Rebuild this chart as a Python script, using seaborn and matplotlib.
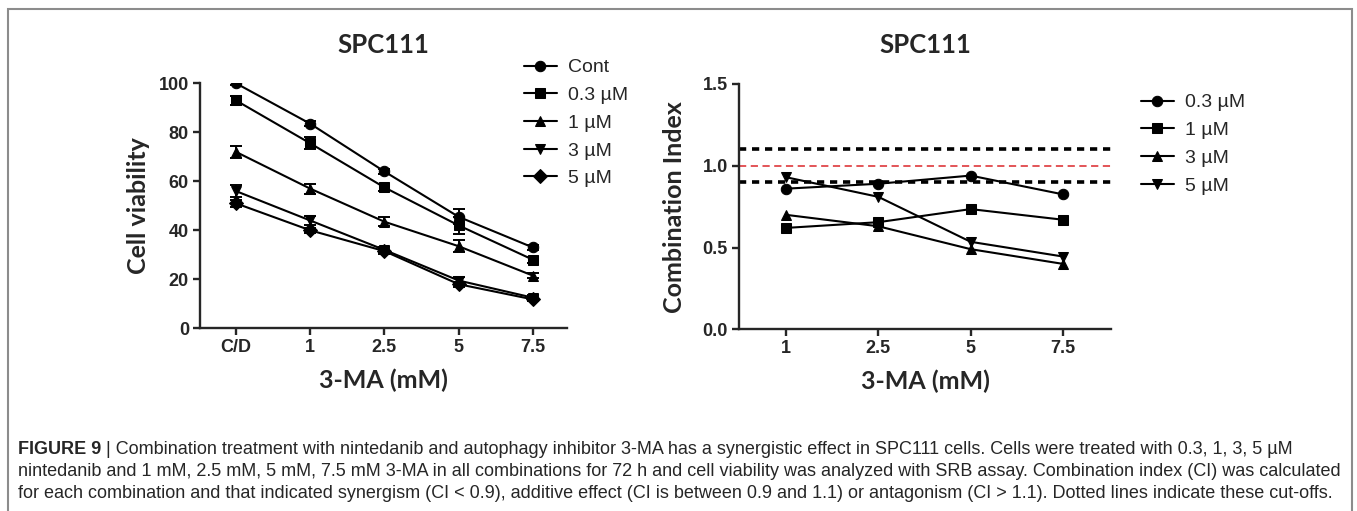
import pandas as pd
import matplotlib.pyplot as plt
import seaborn as sns
from matplotlib import font_manager
from matplotlib.patches import Rectangle


OUTPUT_PATH = "out.png"

# 3-MA concentrations (x axis)
MA_LEFT = ["C/D", "1", "2.5", "5", "7.5"]
MA_RIGHT = ["1", "2.5", "5", "7.5"]

# Cell viability (%) per nintedanib dose
VIAB_GROUPS = ["Cont", "0.3 µM", "1 µM", "3 µM", "5 µM"]
VIAB_CONT = [100, 83.5, 64, 45.5, 33]
VIAB_03 = [93, 75.5, 57.5, 42, 28]
VIAB_1 = [72, 57, 43.5, 33.5, 21.5]
VIAB_3 = [56, 44, 32, 19.5, 12.5]
VIAB_5 = [51, 40, 31.5, 18, 11.8]

# SEM for the viability points
SEM_CONT = [0.5, 1, 1, 3, 1]
SEM_03 = [2, 2.5, 1.5, 3.5, 1.2]
SEM_1 = [2.5, 2, 1.8, 2.5, 1]
SEM_3 = [2.5, 2, 1, 1.5, 1]
SEM_5 = [1.5, 1, 1, 1, 0.8]

# Combination index per nintedanib dose
CI_GROUPS = ["0.3 µM", "1 µM", "3 µM", "5 µM"]
CI_03 = [0.86, 0.89, 0.94, 0.825]
CI_1 = [0.62, 0.655, 0.735, 0.67]
CI_3 = [0.70, 0.63, 0.49, 0.40]
CI_5 = [0.93, 0.81, 0.535, 0.445]

CI_CUTOFFS = [0.9, 1.1]
CI_ADDITIVE = 1.0

CAPTION_HEAD = "FIGURE 9"
CAPTION_LINES = [
    " | Combination treatment with nintedanib and autophagy inhibitor 3-MA has a synergistic effect in SPC111 cells. "
    "Cells were treated with 0.3, 1, 3, 5 µM",
    "nintedanib and 1 mM, 2.5 mM, 5 mM, 7.5 mM 3-MA in all combinations for 72 h and cell viability was analyzed "
    "with SRB assay. Combination index (CI) was calculated",
    "for each combination and that indicated synergism (CI < 0.9), additive effect (CI is between 0.9 and 1.1) "
    "or antagonism (CI > 1.1). Dotted lines indicate these cut-offs.",
]


def pick_font(*candidates):
    names = {f.name for f in font_manager.fontManager.ttflist}
    for name in candidates:
        if name in names:
            return name
    return "DejaVu Sans"


def style_axis(ax, tick_font):
    sns.despine(ax=ax)
    for side in ["left", "bottom"]:
        ax.spines[side].set_linewidth(1.7)
    ax.tick_params(direction="out", length=5, width=1.7, pad=3)
    for lab in ax.get_xticklabels() + ax.get_yticklabels():
        lab.set_fontfamily(tick_font)
        lab.set_fontweight("bold")
        lab.set_fontsize(13)


def plot_figure():

    sns.set_theme(style="ticks")
    label_font = pick_font("Lato", "Open Sans")
    narrow_font = pick_font("Liberation Sans Narrow", "Liberation Sans")
    plt.rcParams["font.family"] = ["Liberation Sans", "DejaVu Sans"]

    fig = plt.figure(figsize=(13.57, 5.11), dpi=100)

    # Outer frame
    fig.patches.append(
        Rectangle((8 / 1357, -0.1), 1344 / 1357, 1.1 - 9 / 511,
                  transform=fig.transFigure, fill=False,
                  edgecolor="#8c8c8c", linewidth=1.5)
    )

    # ---------------- Left panel: cell viability ----------------
    ax1 = fig.add_axes([200 / 1357, 1 - 328.3 / 511, 367 / 1357, 245 / 511])

    viab = pd.DataFrame({
        "pos": list(range(len(MA_LEFT))) * len(VIAB_GROUPS),
        "value": VIAB_CONT + VIAB_03 + VIAB_1 + VIAB_3 + VIAB_5,
        "sem": SEM_CONT + SEM_03 + SEM_1 + SEM_3 + SEM_5,
        "group": [g for g in VIAB_GROUPS for _ in MA_LEFT],
    })

    left_markers = dict(zip(VIAB_GROUPS, ["o", "s", "^", "v", "D"]))

    sns.lineplot(
        data=viab, x="pos", y="value",
        hue="group", style="group",
        palette=["black"] * len(VIAB_GROUPS),
        markers=left_markers, dashes=False,
        markersize=7.5, markeredgecolor="black",
        linewidth=1.5, ax=ax1
    )

    for _, grp in viab.groupby("group", sort=False):
        ax1.errorbar(grp["pos"], grp["value"], yerr=grp["sem"], fmt="none",
                     ecolor="black", elinewidth=1.4, capsize=4, capthick=1.4)

    ax1.set_xlim(-0.485, 4.46)
    ax1.set_ylim(0, 100)
    ax1.set_xticks(range(len(MA_LEFT)))
    ax1.set_xticklabels(MA_LEFT)
    ax1.set_yticks([0, 20, 40, 60, 80, 100])
    ax1.set_xlabel("3-MA (mM)", fontsize=18, fontweight="bold",
                   family=label_font, labelpad=9)
    ax1.set_ylabel("Cell viability", fontsize=18, fontweight="bold",
                   family=label_font, labelpad=6)
    ax1.set_title("SPC111", fontsize=18.5, fontweight="bold",
                  family=label_font, pad=22)
    style_axis(ax1, narrow_font)

    sns.move_legend(
        ax1, "upper left", bbox_to_anchor=(516 / 1357, 1 - 51 / 511),
        bbox_transform=fig.transFigure, frameon=False, title=None,
        fontsize=14, handlelength=1.7, handletextpad=0.55,
        labelspacing=0.52, borderaxespad=0
    )

    # ---------------- Right panel: combination index ----------------
    ax2 = fig.add_axes([739 / 1357, 1 - 329.3 / 511, 372 / 1357, 245.3 / 511])

    ci = pd.DataFrame({
        "pos": list(range(len(MA_RIGHT))) * len(CI_GROUPS),
        "value": CI_03 + CI_1 + CI_3 + CI_5,
        "group": [g for g in CI_GROUPS for _ in MA_RIGHT],
    })

    right_markers = dict(zip(CI_GROUPS, ["o", "s", "^", "v"]))

    for cut in CI_CUTOFFS:
        ax2.axhline(cut, color="black", linestyle=(0, (2, 1.6)),
                    linewidth=2.6, zorder=1)
    ax2.axhline(CI_ADDITIVE, color="#e0464a", linestyle=(0, (4, 2.5)),
                linewidth=1.3, zorder=1)

    sns.lineplot(
        data=ci, x="pos", y="value",
        hue="group", style="group",
        palette=["black"] * len(CI_GROUPS),
        markers=right_markers, dashes=False,
        markersize=7.5, markeredgecolor="black",
        linewidth=1.5, ax=ax2, zorder=3
    )

    ax2.set_xlim(-0.509, 3.52)
    ax2.set_ylim(0, 1.5)
    ax2.set_xticks(range(len(MA_RIGHT)))
    ax2.set_xticklabels(MA_RIGHT)
    ax2.set_yticks([0.0, 0.5, 1.0, 1.5])
    ax2.set_yticklabels(["0.0", "0.5", "1.0", "1.5"])
    ax2.set_xlabel("3-MA (mM)", fontsize=18, fontweight="bold",
                   family=label_font, labelpad=9)
    ax2.set_ylabel("Combination Index", fontsize=18, fontweight="bold",
                   family=label_font, labelpad=12)
    ax2.set_title("SPC111", fontsize=18.5, fontweight="bold",
                  family=label_font, pad=22)
    style_axis(ax2, narrow_font)

    sns.move_legend(
        ax2, "upper left", bbox_to_anchor=(1133 / 1357, 1 - 86 / 511),
        bbox_transform=fig.transFigure, frameon=False, title=None,
        fontsize=14, handlelength=1.7, handletextpad=0.55,
        labelspacing=0.52, borderaxespad=0
    )

    # ---------------- Caption ----------------
    renderer = fig.canvas.get_renderer()
    line_y = [449, 472, 494]
    head = fig.text(18 / 1357, 1 - line_y[0] / 511, CAPTION_HEAD,
                    fontsize=13, fontweight="bold", family=narrow_font,
                    va="center", ha="left")
    head_w = head.get_window_extent(renderer).width
    fig.text((18 + head_w) / 1357, 1 - line_y[0] / 511, CAPTION_LINES[0],
             fontsize=13, family=narrow_font, va="center", ha="left")
    for text, y in zip(CAPTION_LINES[1:], line_y[1:]):
        fig.text(18 / 1357, 1 - y / 511, text, fontsize=13,
                 family=narrow_font, va="center", ha="left")

    fig.savefig(OUTPUT_PATH, dpi=100)


if __name__ == "__main__":

    plot_figure()
